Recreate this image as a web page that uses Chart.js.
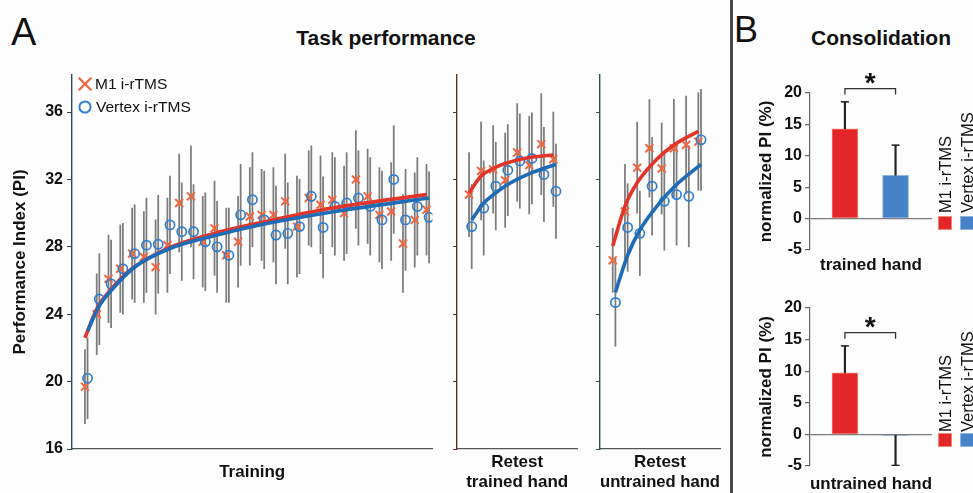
<!DOCTYPE html>
<html>
<head>
<meta charset="utf-8">
<script src="https://cdn.jsdelivr.net/npm/chart.js@4.4.1/dist/chart.umd.min.js"></script>
<style>
  body { margin: 0; background: #fff; }
  #fig { position: relative; width: 973px; height: 493px; overflow: hidden; background: #fdfdfe;
         font-family: "Liberation Sans", Arial, sans-serif; color: #111; }
  #fig canvas, .lbl, .sq, .vlbl { position: absolute; }
  .lbl { line-height: 1; white-space: nowrap; }
  .bold { font-weight: bold; }
  .sq { width: 14px; height: 14px; box-sizing: border-box; }
  .vlbl { writing-mode: vertical-rl; transform: rotate(180deg); font-size: 16.5px; line-height: 16px;
          width: 16px; height: 130px; white-space: nowrap; }
</style>
</head>
<body>
<div id="fig">
  <div class="lbl" style="left:11px;top:13px;font-size:38px;">A</div>
  <div class="lbl bold" style="left:286px;top:27px;width:200px;text-align:center;font-size:21px;">Task performance</div>
  <div style="position:absolute;left:730px;top:0;width:3px;height:493px;background:#4a4a4a;"></div>
  <div class="lbl" style="left:734px;top:12px;font-size:36px;">B</div>
  <div class="lbl bold" style="left:781px;top:27px;width:200px;text-align:center;font-size:21px;">Consolidation</div>

  <canvas id="training" width="440" height="433" style="left:0;top:60px;"></canvas>
  <canvas id="retestTrained" width="140" height="433" style="left:445px;top:60px;"></canvas>
  <canvas id="retestUntrained" width="140" height="433" style="left:588px;top:60px;"></canvas>
  <canvas id="consTrained" width="238" height="280" style="left:735px;top:0;"></canvas>
  <canvas id="consUntrained" width="238" height="263" style="left:735px;top:230px;"></canvas>

  <div class="sq" style="left:938px;top:216px;background:#e4262b;border:1px solid #f2886c;"></div>
  <div class="sq" style="left:960px;top:216px;background:#4682c7;border:1px solid #8db4e0;"></div>
  <div class="vlbl" style="left:937px;top:83px;">M1 i-rTMS</div>
  <div class="vlbl" style="left:959px;top:83px;">Vertex i-rTMS</div>
  <div class="sq" style="left:938px;top:433px;background:#e4262b;border:1px solid #f2886c;"></div>
  <div class="sq" style="left:960px;top:433px;background:#4682c7;border:1px solid #8db4e0;"></div>
  <div class="vlbl" style="left:937px;top:302px;">M1 i-rTMS</div>
  <div class="vlbl" style="left:959px;top:302px;">Vertex i-rTMS</div>
</div>

<script>
// Panel A - performance index per block (mean and sd)
const seriesNames = ["M1 i-rTMS", "Vertex i-rTMS"];

const trainBlocks = [1, 2, 3, 4, 5, 6, 7, 8, 9, 10, 11, 12, 13, 14, 15,
  16, 17, 18, 19, 20, 21, 22, 23, 24, 25, 26, 27, 28, 29, 30];
const trainM1 = [19.7, 24.0, 26.1, 26.7, 27.6, 27.4, 26.8, 28.1, 30.6, 31.0, 28.3, 29.1, 27.5, 28.3, 29.8,
  29.9, 29.9, 30.7, 29.2, 30.9, 30.5, 30.8, 30.0, 32.0, 31.0, 29.9, 30.1, 28.2, 29.6, 30.2];
const trainM1Sd = [2.2, 2.4, 2.6, 2.6, 2.7, 2.7, 2.8, 2.8, 2.9, 3.0, 2.7, 2.8, 2.8, 2.7, 2.9,
  2.7, 2.8, 2.8, 3.0, 2.8, 2.9, 2.8, 2.8, 2.9, 2.8, 2.8, 2.9, 2.9, 2.8, 2.7];
const trainVertex = [20.2, 24.9, 25.8, 26.7, 27.6, 28.1, 28.15, 29.3, 28.9, 28.9, 28.3, 28.0, 27.5, 29.9, 30.8,
  29.6, 28.7, 28.8, 29.2, 31.0, 29.15, 30.4, 30.6, 30.9, 30.4, 29.6, 32.0, 29.6, 30.4, 29.75];
const trainVertexSd = [2.4, 2.7, 2.6, 2.7, 2.9, 2.8, 2.9, 2.9, 2.9, 2.8, 2.9, 2.7, 2.8, 3.0, 2.8,
  2.9, 2.9, 3.0, 2.8, 3.0, 3.0, 2.9, 3.0, 2.8, 2.9, 2.9, 3.2, 3.0, 2.9, 2.7];
const trainFitBlocks = [1, 2, 3, 5, 8, 12, 16, 22, 30];
const trainFitM1 = [22.6, 24.3, 25.3, 26.7, 27.9, 28.8, 29.45, 30.3, 31.1];
const trainFitVertex = [23.0, 24.5, 25.4, 26.8, 27.9, 28.7, 29.35, 30.1, 30.9];

const retestBlocks = [1, 2, 3, 4, 5, 6, 7, 8];
const trainedM1 = [31.1, 32.5, 32.6, 31.95, 33.6, 32.85, 34.1, 33.2];
const trainedM1Sd = [2.5, 2.9, 2.6, 2.8, 2.9, 2.9, 3.0, 2.8];
const trainedVertex = [29.2, 30.3, 31.6, 32.55, 33.1, 33.25, 32.3, 31.3];
const trainedVertexSd = [2.5, 2.8, 2.6, 2.7, 2.8, 2.7, 2.8, 2.8];
const trainedFitBlocks = [1, 2, 3, 4, 6, 8];
const trainedFitM1 = [31.2, 32.2, 32.65, 32.95, 33.3, 33.45];
const trainedFitVertex = [29.6, 30.6, 31.2, 31.7, 32.4, 32.9];

const untrainedM1 = [27.2, 30.1, 32.7, 33.85, 32.65, 33.85, 34.05, 34.25];
const untrainedM1Sd = [1.9, 2.8, 2.7, 2.9, 2.7, 2.9, 2.9, 2.9];
const untrainedVertex = [24.7, 29.15, 28.8, 31.6, 30.7, 31.1, 31.0, 34.35];
const untrainedVertexSd = [2.6, 2.6, 2.5, 2.9, 2.9, 3.0, 3.0, 3.0];
const untrainedFitBlocks = [1, 2, 3, 4.6, 6, 8];
const untrainedFitM1 = [28.05, 30.4, 31.8, 33.2, 34.05, 34.85];
const untrainedFitVertex = [25.3, 27.5, 29.0, 30.6, 31.7, 32.9];

const piTicks = [16, 20, 24, 28, 32, 36];

// Panel B - normalized PI (%), mean and sem
const groupPos = [1, 2];
const consTrainedPI = [14.3, 6.9];
const consTrainedSem = [4.3, 4.8];
const consUntrainedPI = [9.75, -0.15];
const consUntrainedSem = [4.25, 4.75];
const consTicks = [-5, 0, 5, 10, 15, 20];

// styles
const FONT = '"Liberation Sans", Arial, sans-serif';
Chart.defaults.font.family = FONT;
const red = "#e3342a", redMark = "#f2663f", blue = "#1f6bb6", blueMark = "#2f7fd0", errGray = "#7c7c7c";
const vOffset = 0.22; // vertex markers sit a little to the right
const tickFont = { size: 16, weight: "bold" };
const titleFont = { size: 17, weight: "bold", lineHeight: 1.18 };

const pts = (xs, ys, dx = 0) => xs.map((x, i) => ({ x: x + dx, y: ys[i] }));
const sdBars = (xs, ys, sd, dx = 0) => xs.map((x, i) => ({ x: x + dx, y: [ys[i] - sd[i], ys[i] + sd[i]] }));

//legend drawn inside the training plot
const insideLegend = {
  id: "insideLegend",
  afterDatasetsDraw(chart, args, opts) {
    if (!opts.show) return;
    const { ctx, chartArea } = chart;
    const x = chartArea.left + 13, y1 = chartArea.top + 9, y2 = chartArea.top + 32, r = 6.3;
    ctx.save();
    ctx.lineWidth = 2.3;
    ctx.strokeStyle = redMark;
    ctx.beginPath();
    ctx.moveTo(x - r, y1 - r); ctx.lineTo(x + r, y1 + r);
    ctx.moveTo(x + r, y1 - r); ctx.lineTo(x - r, y1 + r);
    ctx.stroke();
    ctx.lineWidth = 2;
    ctx.strokeStyle = blueMark;
    ctx.beginPath();
    ctx.arc(x, y2, 5.6, 0, 2 * Math.PI);
    ctx.stroke();
    ctx.fillStyle = "#111";
    ctx.font = "15.5px " + FONT;
    ctx.textBaseline = "middle";
    ctx.fillText(seriesNames[0], x + 10, y1 + 1);
    ctx.fillText(seriesNames[1], x + 11, y2 + 1);
    ctx.restore();
  },
};

//significance bracket + star
const sigBracket = {
  id: "sigBracket",
  afterDatasetsDraw(chart, args, opts) {
    if (!opts.level) return;
    const { ctx, scales } = chart;
    const x1 = scales.x.getPixelForValue(groupPos[0]);
    const x2 = scales.x.getPixelForValue(groupPos[1]);
    const yl = scales.y.getPixelForValue(opts.level);
    ctx.save();
    ctx.strokeStyle = "#333";
    ctx.lineWidth = 1.3;
    ctx.beginPath();
    ctx.moveTo(x1, yl + 6); ctx.lineTo(x1, yl); ctx.lineTo(x2, yl); ctx.lineTo(x2, yl + 6);
    ctx.stroke();
    ctx.fillStyle = "#111";
    ctx.font = "bold 28px " + FONT;
    ctx.textAlign = "center";
    ctx.textBaseline = "alphabetic";
    ctx.fillText("*", (x1 + x2) / 2, yl + 3);
    ctx.restore();
  },
};

function curvePanel(id, c) {
  return new Chart(id, {
    type: "scatter",
    data: {
      datasets: [
        { type: "line", data: pts(c.fitX, c.fitV, vOffset), borderColor: blue, borderWidth: 3.6,
          pointRadius: 0, cubicInterpolationMode: "monotone", fill: false, order: 0 },
        { type: "line", data: pts(c.fitX, c.fitM1), borderColor: red, borderWidth: 3.6,
          pointRadius: 0, cubicInterpolationMode: "monotone", fill: false, order: 1 },
        { label: seriesNames[1], data: pts(c.blocks, c.v, vOffset), pointStyle: "circle", pointRadius: 4.6,
          borderColor: blueMark, backgroundColor: "rgba(0,0,0,0)", borderWidth: 1.7, order: 2 },
        { label: seriesNames[0], data: pts(c.blocks, c.m1), pointStyle: "crossRot", pointRadius: 5.6,
          borderColor: redMark, backgroundColor: redMark, borderWidth: 2, order: 3 },
        { type: "bar", data: sdBars(c.blocks, c.m1, c.m1Sd).concat(sdBars(c.blocks, c.v, c.vSd, vOffset)),
          backgroundColor: errGray, grouped: false, barThickness: 1.1, maxBarThickness: 1.1, order: 4 },
      ],
    },
    options: {
      responsive: false,
      animation: false,
      events: [],
      layout: { padding: { left: 0, right: c.padRight, top: 15, bottom: 0 } },
      plugins: { legend: { display: false }, tooltip: { enabled: false }, insideLegend: { show: c.legend } },
      scales: {
        x: {
          type: "linear", min: c.xMin, max: c.xMax, offset: false,
          afterFit: (s) => { s.height = 44; },
          border: { display: true, color: "#555", width: 1.3 },
          grid: { display: true, offset: false, drawOnChartArea: false, drawTicks: false },
          ticks: { display: false },
          title: { display: true, text: c.xTitle, color: "#111", font: titleFont,
                   padding: { top: 0, bottom: c.xTitlePad } },
        },
        y: {
          type: "linear", min: 16, max: 38.2,
          afterBuildTicks: (s) => { s.ticks = piTicks.map((v) => ({ value: v })); },
          afterFit: (s) => { s.width = c.yWidth; },
          border: { display: true, color: c.axisColor, width: 1.4 },
          grid: { display: true, drawOnChartArea: false, drawTicks: true, tickLength: c.tickLen, color: c.axisColor },
          ticks: { display: c.labels, color: "#111", font: tickFont, padding: 4 },
          title: { display: c.labels, text: "Performance Index (PI)", color: "#111", font: titleFont,
                   padding: { top: 10, bottom: 0 } },
        },
      },
    },
    plugins: [insideLegend],
  });
}

function consolidationPanel(id, vals, errs, xTitle, padTop, xHeight, xTitlePad) {
  const tips = vals.map((v, i) => v + Math.sign(v) * errs[i]);
  return new Chart(id, {
    type: "scatter",
    data: {
      datasets: [
        { data: pts(groupPos, tips), pointStyle: "line", pointRadius: 4, borderColor: "#222", borderWidth: 1.5, order: 0 },
        { type: "bar", data: groupPos.map((g, i) => ({ x: g, y: [vals[i], tips[i]] })), backgroundColor: "#222",
          grouped: false, barThickness: 1.5, maxBarThickness: 1.5, order: 1 },
        { type: "bar", data: pts(groupPos, vals), backgroundColor: ["#e4262b", "#4682c7"],
          borderColor: ["#f2886c", "#8db4e0"], borderWidth: 1, borderSkipped: false,
          grouped: false, barThickness: 26, maxBarThickness: 26, order: 2 },
      ],
    },
    options: {
      responsive: false,
      animation: false,
      events: [],
      layout: { padding: { left: 0, right: 41, top: padTop, bottom: 0 } },
      plugins: {
        legend: { display: false }, tooltip: { enabled: false },
        sigBracket: { level: Math.max(...tips) + 2.1 },
      },
      scales: {
        x: {
          type: "linear", min: 0.31, max: 2.72, offset: false,
          afterFit: (s) => { s.height = xHeight; },
          border: { display: false },
          grid: { display: false, offset: false },
          ticks: { display: false },
          title: { display: true, text: xTitle, color: "#111", font: { size: 17, weight: "bold", lineHeight: 1 },
                   padding: { top: 0, bottom: xTitlePad } },
        },
        y: {
          type: "linear", min: -5, max: 20,
          afterBuildTicks: (s) => { s.ticks = consTicks.map((v) => ({ value: v })); },
          afterFit: (s) => { s.width = 75; },
          border: { display: true, color: "#666", width: 1.2 },
          grid: { display: true, drawOnChartArea: true, drawTicks: true, tickLength: 5, tickColor: "#666",
                  lineWidth: 1.2, color: (ctx) => (ctx.tick && ctx.tick.value === 0 ? "#7a7a7a" : "rgba(0,0,0,0)") },
          ticks: { color: "#111", font: tickFont, padding: 3 },
          title: { display: true, text: "normalized PI (%)", color: "#111",
                   font: { size: 17, weight: "bold", lineHeight: 1 }, padding: { top: 22.5, bottom: 0 } },
        },
      },
    },
    plugins: [sigBracket],
  });
}

curvePanel("training", {
  blocks: trainBlocks, m1: trainM1, m1Sd: trainM1Sd, v: trainVertex, vSd: trainVertexSd,
  fitX: trainFitBlocks, fitM1: trainFitM1, fitV: trainFitVertex,
  xMin: -0.1, xMax: 30.5, yWidth: 72, padRight: 4, labels: true, tickLen: 5, legend: true,
  xTitle: "Training", xTitlePad: 11, axisColor: "#2e4a55",
});
curvePanel("retestTrained", {
  blocks: retestBlocks, m1: trainedM1, m1Sd: trainedM1Sd, v: trainedVertex, vSd: trainedVertexSd,
  fitX: trainedFitBlocks, fitM1: trainedFitM1, fitV: trainedFitVertex,
  xMin: 0, xMax: 10, yWidth: 12, padRight: 6, labels: false, tickLen: 4, legend: false,
  xTitle: ["Retest", "trained hand"], xTitlePad: 1, axisColor: "#5a3326",
});
curvePanel("retestUntrained", {
  blocks: retestBlocks, m1: untrainedM1, m1Sd: untrainedM1Sd, v: untrainedVertex, vSd: untrainedVertexSd,
  fitX: untrainedFitBlocks, fitM1: untrainedFitM1, fitV: untrainedFitVertex,
  xMin: -0.04, xMax: 9.77, yWidth: 12, padRight: 8, labels: false, tickLen: 4, legend: false,
  xTitle: ["Retest", "untrained hand"], xTitlePad: 1, axisColor: "#2f4f4f",
});

consolidationPanel("consTrained", consTrainedPI, consTrainedSem, "trained hand", 93, 30, 6.5);
consolidationPanel("consUntrained", consUntrainedPI, consUntrainedSem, "untrained hand", 78, 27, 0);
</script>
</body>
</html>
